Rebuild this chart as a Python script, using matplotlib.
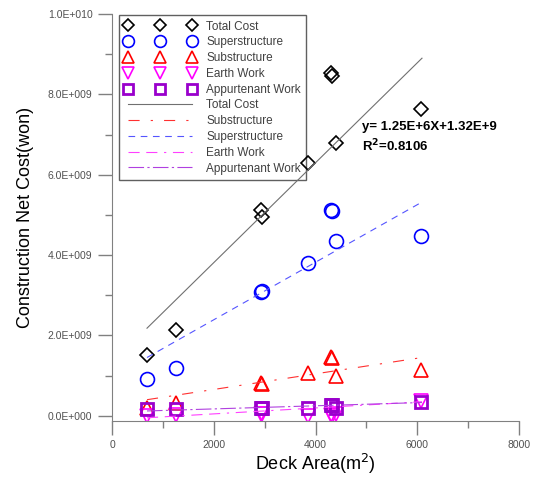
import numpy as np
import matplotlib.pyplot as plt
from matplotlib.ticker import MultipleLocator, FuncFormatter

plt.rcParams['font.family'] = ['Liberation Sans', 'DejaVu Sans']

# deck area (m2) of each bridge
deck_area = [690, 1260, 2920, 2950, 3860, 4310, 4330, 4400, 6080]

# construction net cost (won)
total_cost = [1.52e9, 2.14e9, 5.12e9, 4.95e9, 6.29e9, 8.53e9, 8.45e9, 6.79e9, 7.64e9]
superstructure = [0.92e9, 1.19e9, 3.08e9, 3.10e9, 3.81e9, 5.12e9, 5.10e9, 4.35e9, 4.48e9]
substructure = [0.20e9, 0.33e9, 0.82e9, 0.78e9, 1.07e9, 1.47e9, 1.45e9, 1.00e9, 1.14e9]
earth_work = [0.00e9, 0.02e9, 0.05e9, 0.04e9, 0.00e9, 0.02e9, 0.00e9, 0.05e9, 0.37e9]
appurtenant = [0.18e9, 0.18e9, 0.20e9, 0.19e9, 0.20e9, 0.28e9, 0.26e9, 0.20e9, 0.35e9]

# regression line end points
fit_x = [688, 6093]
fit_total = [2.18e9, 8.90e9]
fit_super = [1.45e9, 5.32e9]
fit_sub = [0.40e9, 1.45e9]
fit_earth = [-0.05e9, 0.35e9]
fit_appur = [0.12e9, 0.33e9]

fig = plt.figure(figsize=(5.45, 4.8), dpi=100)
ax = fig.add_axes([112 / 545, 1 - 421 / 480, 407 / 545, 407 / 480])

mk = dict(linestyle='none', markerfacecolor='none', markeredgewidth=1.2)
ax.plot(deck_area, total_cost, marker='D', ms=7.5, color='black', label='Total Cost', **mk)
ax.plot(deck_area, superstructure, marker='o', ms=10, color='#0000ff', label='Superstructure', **mk)
ax.plot(deck_area, substructure, marker='^', ms=9.5, color='#ff0000', label='Substructure', **mk)
ax.plot(deck_area, earth_work, marker='v', ms=9.5, color='#ff00ff', label='Earth Work', **mk)
mk['markeredgewidth'] = 2
ax.plot(deck_area, appurtenant, marker='s', ms=9, color='#9900cc', label='Appurtenant Work', **mk)

ax.plot(fit_x, fit_total, color='#707070', lw=0.8, label='Total Cost')
ax.plot(fit_x, fit_sub, color='#ff3030', lw=0.8, dashes=(10, 10, 2, 10), label='Substructure')
ax.plot(fit_x, fit_super, color='#5555ff', lw=0.8, dashes=(6, 5), label='Superstructure')
ax.plot(fit_x, fit_earth, color='#ff40ff', lw=0.8, dashes=(10, 6, 10, 6, 2, 6), label='Earth Work')
ax.plot(fit_x, fit_appur, color='#b040e0', lw=0.8, dashes=(14, 3, 2, 3), label='Appurtenant Work')

ax.text(4920, 7.12e9, 'y= 1.25E+6X+1.32E+9', fontsize=9.5, fontweight='bold')
ax.text(4920, 6.58e9, 'R$^{\\mathbf{2}}$=0.8106', fontsize=9.5, fontweight='bold')

ax.set_xlim(0, 8000)
ax.set_ylim(-1.3e8, 1.0e10)
ax.xaxis.set_major_locator(MultipleLocator(2000))
ax.xaxis.set_minor_locator(MultipleLocator(1000))
ax.yaxis.set_major_locator(MultipleLocator(2e9))
ax.yaxis.set_minor_locator(MultipleLocator(1e9))


def sci(v, pos):
    if v == 0:
        return '0.0E+000'
    e = int(np.floor(np.log10(abs(v))))
    return f'{v / 10 ** e:.1f}E+{e:03d}'


ax.yaxis.set_major_formatter(FuncFormatter(sci))
ax.tick_params(which='major', direction='out', length=10, width=1, color='#808080',
               labelsize=7.5, labelcolor='#505050', pad=4)
ax.tick_params(which='minor', direction='out', length=5, width=1, color='#808080')
for s in ['top', 'right']:
    ax.spines[s].set_visible(False)
for s in ['left', 'bottom']:
    ax.spines[s].set_color('#808080')

ax.set_xlabel('Deck Area(m$^2$)', fontsize=13, labelpad=1)
ax.set_ylabel('Construction Net Cost(won)', fontsize=13, labelpad=10)

leg = ax.legend(loc='upper left', bbox_to_anchor=(0.018, 0.997), borderaxespad=0,
                numpoints=3, fontsize=8.5, handlelength=6.0, handletextpad=0.9,
                labelspacing=0.32, markerscale=0.85, borderpad=0.45,
                fancybox=False, framealpha=1, edgecolor='#606060')
leg.get_frame().set_linewidth(1)
leg.set_zorder(1)
for t in leg.get_texts():
    t.set_color('#404040')

fig.savefig('out.png', dpi=100)
